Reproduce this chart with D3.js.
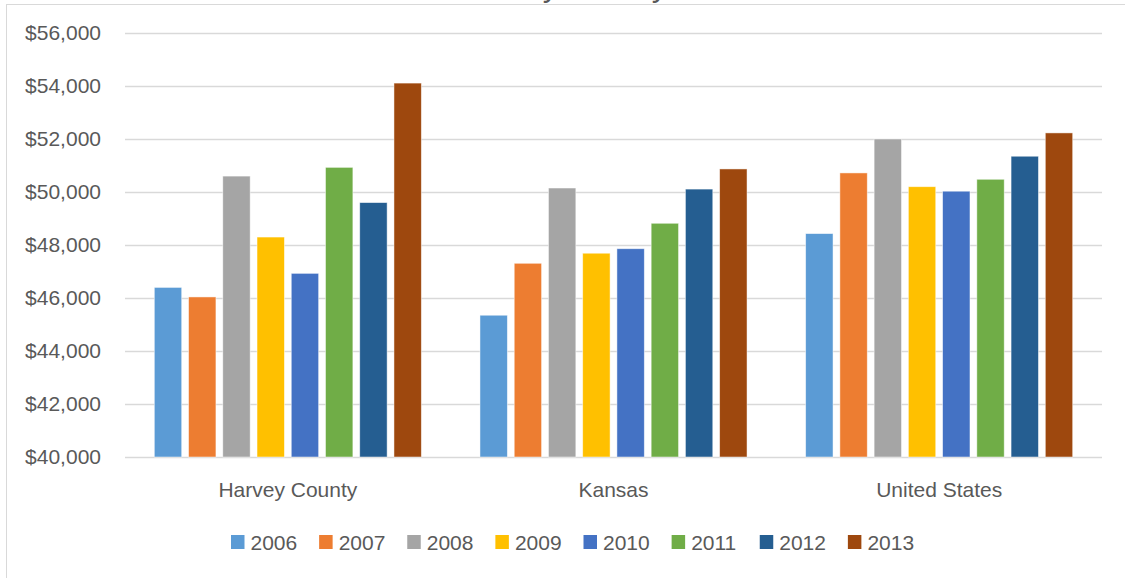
<!doctype html>
<html>
<head>
    <style>
        body { margin: 0; background: #fff; }
        text { font-family: "Liberation Sans", Arial, sans-serif; fill: #595959; }
        .grid line { stroke: #d9d9d9; stroke-width: 1.3; }
        .grid path { display: none; }
        .bar { stroke: #fff; stroke-width: 0.8; stroke-opacity: 0.6; }
    </style>
    <script src="https://d3js.org/d3.v7.min.js"></script>
</head>
<body>
<svg width="1125" height="578" id="chart"></svg>
<script>
    // data
    var categories = ["Harvey County", "Kansas", "United States"];
    var years = ["2006", "2007", "2008", "2009", "2010", "2011", "2012", "2013"];
    var harvey = [46400, 46040, 50600, 48300, 46930, 50930, 49600, 54110];
    var kansas = [45350, 47310, 50150, 47690, 47860, 48820, 50110, 50870];
    var unitedStates = [48430, 50720, 52000, 50200, 50030, 50480, 51350, 52230];
    var yTicks = [40000, 42000, 44000, 46000, 48000, 50000, 52000, 54000, 56000];
    var colors = ["#5b9bd5", "#ed7d31", "#a5a5a5", "#ffc000", "#4472c4", "#70ad47", "#255e91", "#9e480e"];

    var series = [harvey, kansas, unitedStates];
    var data = categories.map(function(c, i) {
        return { name: c, values: years.map(function(y, j) { return { year: y, value: series[i][j] }; }) };
    });

    var svg = d3.select("svg");

    // chart frame (runs off the right and bottom edge)
    svg.append("rect")
       .attr("x", 6.5).attr("y", 4.5)
       .attr("width", 1140).attr("height", 600)
       .attr("fill", "#fff")
       .attr("stroke", "#d9d9d9");

    // title, mostly cut off above the frame
    svg.append("text")
       .attr("x", 563)
       .attr("y", -4.5)
       .attr("text-anchor", "middle")
       .attr("font-size", "31.6px")
       .text("Harvey County");

    var plotLeft = 125, plotRight = 1102, plotTop = 33, plotBottom = 457;

    var yScale = d3.scaleLinear().domain([40000, 56000]).range([plotBottom, plotTop]);
    var x0 = d3.scaleBand().domain(categories).range([plotLeft, plotRight])
        .paddingInner(0.18).paddingOuter(0.09);
    var x1 = d3.scaleBand().domain(years).range([0, x0.bandwidth()])
        .paddingInner(0.2).paddingOuter(0);
    var color = d3.scaleOrdinal().domain(years).range(colors);

    // gridlines
    svg.append("g")
       .attr("class", "grid")
       .attr("transform", "translate(" + plotLeft + ",0)")
       .call(d3.axisRight(yScale).tickValues(yTicks).tickSize(plotRight - plotLeft).tickFormat(""));

    // y labels
    var fmt = d3.format(",");
    svg.append("g")
       .selectAll("text")
       .data(yTicks)
       .enter().append("text")
       .attr("x", 101)
       .attr("y", function(d) { return yScale(d); })
       .attr("dy", "0.35em")
       .attr("text-anchor", "end")
       .attr("font-size", "21px")
       .text(function(d) { return "$" + fmt(d); });

    // bars
    var groups = svg.append("g")
       .selectAll("g")
       .data(data)
       .enter().append("g")
       .attr("transform", function(d) { return "translate(" + x0(d.name) + ",0)"; });

    groups.selectAll("rect")
       .data(function(d) { return d.values; })
       .enter().append("rect")
       .attr("class", "bar")
       .attr("x", function(d) { return x1(d.year); })
       .attr("y", function(d) { return yScale(d.value); })
       .attr("width", x1.bandwidth())
       .attr("height", function(d) { return plotBottom - yScale(d.value); })
       .attr("fill", function(d) { return color(d.year); });

    // category labels
    svg.append("g")
       .selectAll("text")
       .data(categories)
       .enter().append("text")
       .attr("x", function(d) { return x0(d) + x0.bandwidth() / 2; })
       .attr("y", 497)
       .attr("text-anchor", "middle")
       .attr("font-size", "21px")
       .text(function(d) { return d; });

    // legend
    var legendX = d3.scaleBand().domain(years).range([231, 936]);
    var legend = svg.append("g")
       .selectAll("g")
       .data(years)
       .enter().append("g")
       .attr("transform", function(d) { return "translate(" + legendX(d) + ",535)"; });

    legend.append("rect")
       .attr("width", 13.5).attr("height", 14)
       .attr("fill", function(d) { return color(d); });

    legend.append("text")
       .attr("x", 19.5)
       .attr("y", 14.5)
       .attr("font-size", "21px")
       .text(function(d) { return d; });
</script>
</body>
</html>
